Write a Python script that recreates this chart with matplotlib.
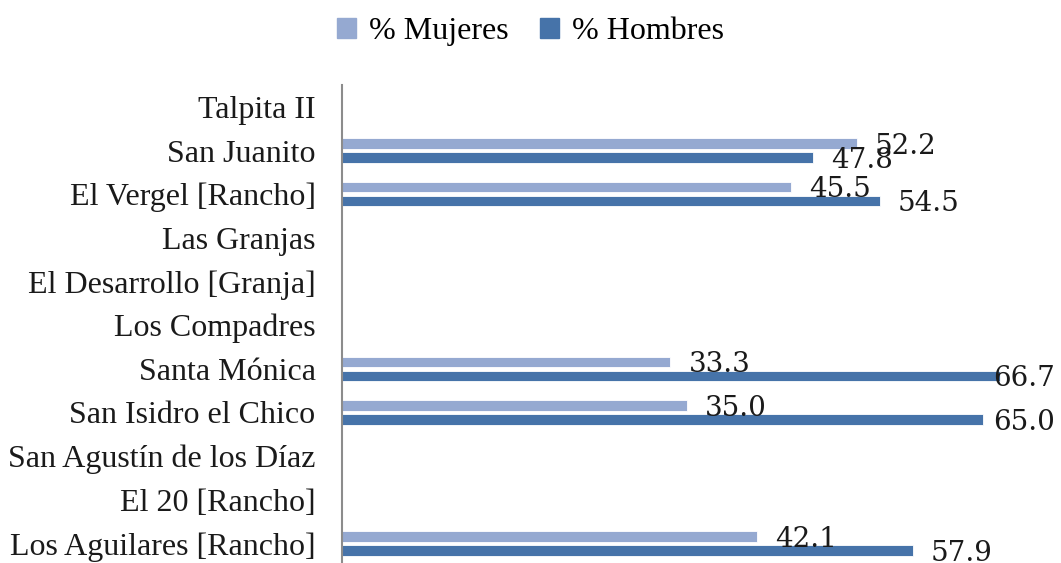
import numpy as np
import matplotlib.pyplot as plt
from matplotlib.patches import Patch

# data (top to bottom as in the chart)
localidades = ['Talpita II', 'San Juanito', 'El Vergel [Rancho]', 'Las Granjas',
               'El Desarrollo [Granja]', 'Los Compadres', 'Santa Mónica',
               'San Isidro el Chico', 'San Agustín de los Díaz', 'El 20 [Rancho]',
               'Los Aguilares [Rancho]']
mujeres = [np.nan, 52.2, 45.5, np.nan, np.nan, np.nan, 33.3, 35.0, np.nan, np.nan, 42.1]
hombres = [np.nan, 47.8, 54.5, np.nan, np.nan, np.nan, 66.7, 65.0, np.nan, np.nan, 57.9]

c_muj = '#95a9d1'
c_hom = '#4673a9'
fnt = 'Liberation Serif'
fnt_num = 'DejaVu Serif'

fig = plt.figure(figsize=(10.61, 5.63), dpi=100)
ax = fig.add_axes([0.3223, -0.004, 0.6777, 0.853])

y = np.arange(len(localidades))
h = 0.24
ax.barh(y - 0.16, mujeres, height=h, color=c_muj, edgecolor='white', linewidth=0.6)
ax.barh(y + 0.16, hombres, height=h, color=c_hom, edgecolor='white', linewidth=0.6)

xmax = 72.9
ax.set_xlim(0, xmax)
ax.set_ylim(len(localidades) - 0.5, -0.5)

# value labels
for i in range(len(localidades)):
    for v, dy in ((mujeres[i], -0.16), (hombres[i], 0.16)):
        if np.isnan(v):
            continue
        if v + 8 > xmax:
            ax.annotate(f'{v:.1f}', (xmax, i + dy), xytext=(-4, -2), textcoords='offset points',
                        ha='right', va='center', fontsize=20, family=fnt_num, color='#1a1a1a')
        else:
            ax.annotate(f'{v:.1f}', (v, i + dy), xytext=(13, -2), textcoords='offset points',
                        ha='left', va='center', fontsize=20, family=fnt_num, color='#1a1a1a')

ax.set_yticks(y)
ax.set_yticklabels(localidades, fontsize=23, family=fnt, color='#1a1a1a')
ax.tick_params(axis='y', length=0, pad=19)
ax.set_xticks([])
for s in ['top', 'right', 'bottom']:
    ax.spines[s].set_visible(False)
ax.spines['left'].set_color('#8c8c8c')
ax.spines['left'].set_linewidth(1.5)

handles = [Patch(color=c_muj, label='% Mujeres'), Patch(color=c_hom, label='% Hombres')]
fig.legend(handles=handles, loc='upper center', bbox_to_anchor=(0.5, 1.02), ncol=2,
           frameon=False, prop={'family': fnt, 'size': 23}, handlelength=0.6,
           handleheight=0.6, handletextpad=0.4, columnspacing=1.0)

fig.savefig('out.png', dpi=100)
